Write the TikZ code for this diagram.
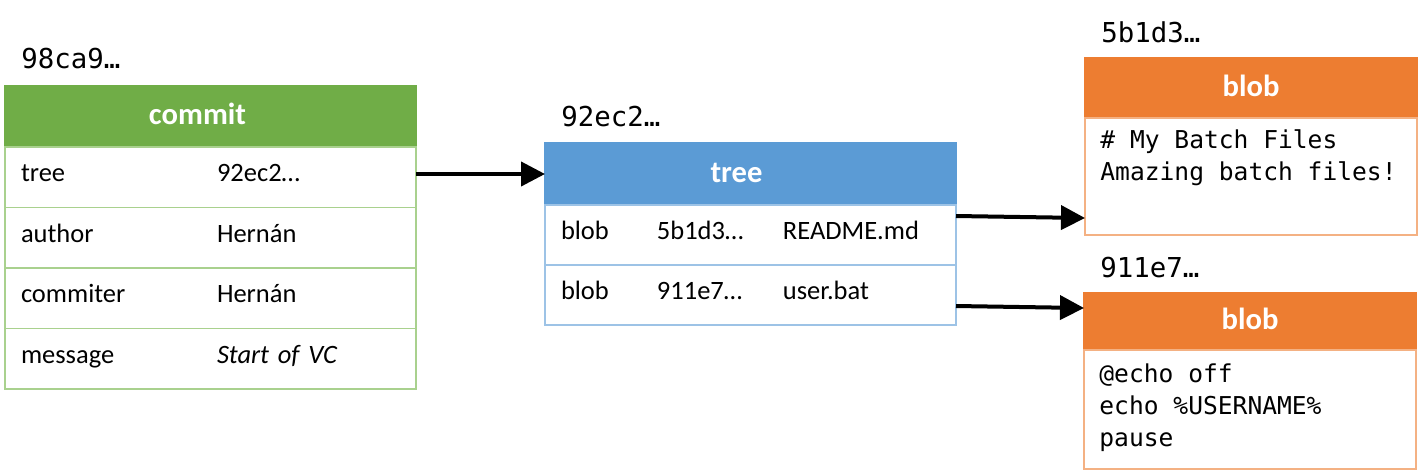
\documentclass[tikz,border=0pt]{standalone}
\usepackage{fontspec}
\setmainfont{Carlito}
\setmonofont{DejaVu Sans Mono}
\usepackage{xcolor}
\usetikzlibrary{calc,arrows.meta,positioning}

\definecolor{cgreen}{HTML}{70AD47}
\definecolor{cgreenl}{HTML}{A9D18E}
\definecolor{cblue}{HTML}{5B9BD5}
\definecolor{cbluel}{HTML}{9DC3E6}
\definecolor{corange}{HTML}{ED7D31}
\definecolor{corangel}{HTML}{F4B183}

\tikzset{
	hdr/.style={fill=#1, draw=#1, line width=0.75pt, text=white, font=\fontsize{15.3}{18}\selectfont\bfseries, text height=9pt, text depth=1pt, inner sep=0pt, outer sep=0pt},
	cell/.style={draw=#1, line width=0.75pt, font=\fontsize{13.25}{16}\selectfont, align=left, text height=6.5pt, text depth=2pt, inner xsep=8pt, inner ysep=0pt, outer sep=0pt},
	hashlbl/.style={anchor=base west, inner sep=0pt, font=\ttfamily\fontsize{13.7}{16}\selectfont},
	code/.style={anchor=north west, inner sep=0pt, align=left, font=\ttfamily\fontsize{12.3}{16}\selectfont},
	ptr/.style={line width=2pt, -{Triangle[length=12pt,width=12pt]}},
}

\begin{document}
\begin{tikzpicture}[x=0.5pt,y=-0.5pt]
	\useasboundingbox (0,0) rectangle (1418,472);
	
	\coordinate (C) at (210.5,116.5);
	\coordinate (T) at (750.5,174);
	\coordinate (B1) at (1251,88);
	\coordinate (B2) at (1250,321.5);
	
	% commit
	\node[hdr=cgreen, minimum width=205.5pt, minimum height=30.5pt] (chdr) at (C) {commit\hspace*{13pt}};
	\node[cell=cgreenl, text width=189.5pt, minimum height=30.25pt, below=0pt of chdr] (crow1) {\makebox[98pt][l]{tree}92ec2…};
	\node[cell=cgreenl, text width=189.5pt, minimum height=30.25pt, below=0pt of crow1] (crow2) {\makebox[98pt][l]{author}Hernán};
	\node[cell=cgreenl, text width=189.5pt, minimum height=30.25pt, below=0pt of crow2] (crow3) {\makebox[98pt][l]{commiter}Hernán};
	\node[cell=cgreenl, text width=189.5pt, minimum height=30.25pt, below=0pt of crow3] (crow4) {\makebox[98pt][l]{message}\textit{Start of VC}};
	\node[hashlbl] (chash) at ([xshift=8pt,yshift=9pt]chdr.north west) {98ca9…};
	
	% tree
	\node[hdr=cblue, minimum width=205.5pt, minimum height=31pt] (thdr) at (T) {tree\hspace*{14pt}};
	\node[cell=cbluel, text width=189.5pt, minimum height=30pt, below=0pt of thdr] (trow1) {\makebox[48pt][l]{blob}\makebox[63pt][l]{5b1d3…}README.md};
	\node[cell=cbluel, text width=189.5pt, minimum height=30pt, below=0pt of trow1] (trow2) {\makebox[48pt][l]{blob}\makebox[63pt][l]{911e7…}user.bat};
	\node[hashlbl] (thash) at ([xshift=8pt,yshift=8.5pt]thdr.north west) {92ec2…};
	
	% blobs
	\node[hdr=corange, minimum width=166pt, minimum height=30pt] (bhdr1) at (B1) {blob};
	\node[draw=corangel, line width=0.75pt, minimum width=166pt, minimum height=58.5pt, inner sep=0pt, outer sep=0pt, below=0pt of bhdr1] (bbody1) {};
	\node[code] (bcode1) at ([xshift=7.5pt,yshift=-5.5pt]bbody1.north west) {\# My Batch Files\\Amazing batch files!};
	\node[hashlbl] (bhash1) at ([xshift=8pt,yshift=8pt]bhdr1.north west) {5b1d3…};
	
	\node[hdr=corange, minimum width=166pt, minimum height=28.5pt] (bhdr2) at (B2) {blob};
	\node[draw=corangel, line width=0.75pt, minimum width=166pt, minimum height=59.5pt, inner sep=0pt, outer sep=0pt, below=0pt of bhdr2] (bbody2) {};
	\node[code] (bcode2) at ([xshift=7.5pt,yshift=-6.5pt]bbody2.north west) {@echo off\\echo \%USERNAME\%\\pause};
	\node[hashlbl] (bhash2) at ([xshift=8pt,yshift=8pt]bhdr2.north west) {911e7…};
	
	% pointers
	\draw[ptr] (crow1.east |- thdr.west) -- (thdr.west);
	\draw[ptr] ([yshift=9.5pt]trow1.east) -- ([yshift=-20.75pt]bbody1.west);
	\draw[ptr] ([yshift=-5.5pt]trow2.east) -- ([yshift=6.75pt]bhdr2.west);
\end{tikzpicture}
\end{document}
